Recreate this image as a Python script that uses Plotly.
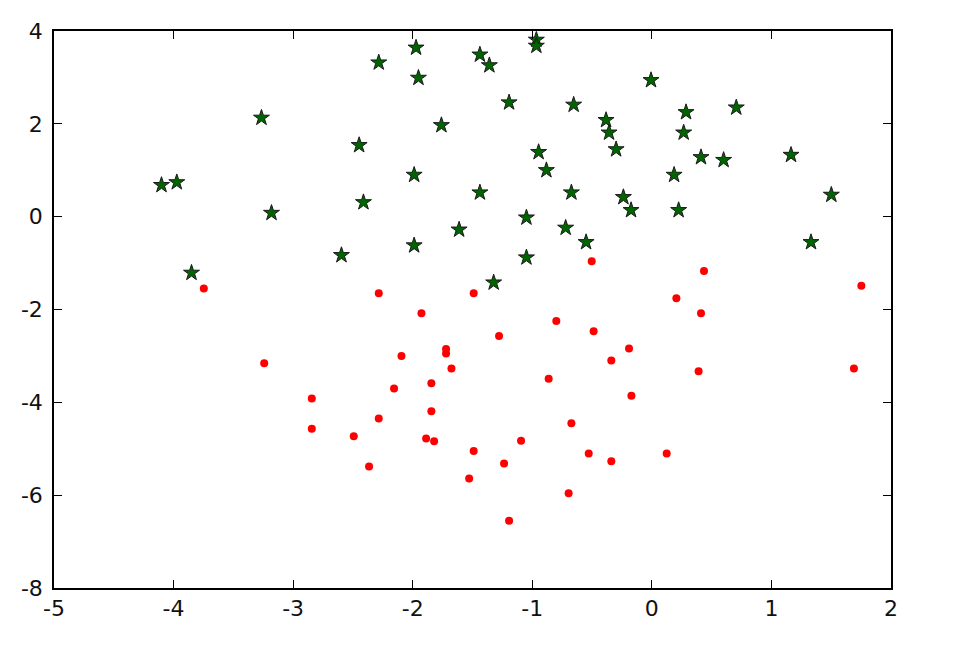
import plotly.graph_objects as go

star_x = [-1.972, -2.284, -1.952, -1.438, -3.265, -1.760, -2.448, -4.101, -3.973, -1.988,
          -1.438, -3.181, -2.412, -1.612, -1.988, -2.596, -3.850, -0.966, -0.966, -1.359,
          -0.007, -1.194, -0.654, -0.383, -0.358, -0.299, 0.286, 0.266, 0.706, -0.947,
          -0.882, 0.411, 0.600, 1.164, 0.186, -0.673, -0.238, -0.174, 0.224, 1.501,
          -1.049, -0.721, -0.550, -1.049, -1.323, 1.331]
star_y = [3.64, 3.32, 2.99, 3.49, 2.13, 1.97, 1.54, 0.68, 0.74, 0.90,
          0.52, 0.08, 0.31, -0.28, -0.62, -0.83, -1.21, 3.81, 3.68, 3.26,
          2.94, 2.46, 2.41, 2.08, 1.81, 1.45, 2.25, 1.81, 2.35, 1.39,
          1.00, 1.28, 1.22, 1.33, 0.90, 0.52, 0.42, 0.14, 0.14, 0.47,
          -0.02, -0.24, -0.55, -0.88, -1.42, -0.55]

dot_x = [-3.747, -2.284, -1.490, -1.927, -3.242, -2.094, -1.721, -1.721, -1.676, -2.156,
         -1.844, -2.844, -2.844, -2.284, -1.844, -2.493, -1.888, -1.821, -1.490, -2.365,
         -1.528, -0.503, 0.436, 1.752, 0.205, 0.411, -0.799, -1.278, -0.487, -0.191,
         -0.339, 0.391, 1.690, -0.863, -0.171, -0.673, -1.094, -1.236, -0.528, -0.339,
         0.124, -0.696, -1.194]
dot_y = [-1.55, -1.65, -1.65, -2.08, -3.16, -3.00, -2.85, -2.95, -3.27, -3.70,
         -3.59, -3.92, -4.57, -4.35, -4.19, -4.73, -4.78, -4.84, -5.05, -5.38,
         -5.64, -0.96, -1.17, -1.49, -1.76, -2.08, -2.25, -2.57, -2.47, -2.84,
         -3.10, -3.33, -3.27, -3.49, -3.86, -4.45, -4.83, -5.32, -5.10, -5.27,
         -5.10, -5.96, -6.55]

x_ticks = [-5, -4, -3, -2, -1, 0, 1, 2]
y_ticks = [-8, -6, -4, -2, 0, 2, 4]

fig = go.Figure()
fig.add_trace(go.Scatter(
    x=star_x, y=star_y, mode="markers",
    marker=dict(symbol="star", size=12, color="#006400",
                line=dict(color="#1a1a1a", width=1)),
    showlegend=False))
fig.add_trace(go.Scatter(
    x=dot_x, y=dot_y, mode="markers",
    marker=dict(symbol="circle", size=8, color="#ff0000",
                line=dict(color="#ff0000", width=0)),
    showlegend=False))

axis_common = dict(
    showgrid=False, zeroline=False, showline=True, linecolor="black", linewidth=1.5,
    mirror="ticks", ticks="inside", ticklen=8, tickwidth=1, tickcolor="black",
    tickfont=dict(family="DejaVu Sans", size=22, color="#111111"),
    automargin=False,
)
fig.update_xaxes(range=[-5, 2], tickvals=x_ticks,
                 ticktext=[str(v) for v in x_ticks], ticklabelstandoff=0,
                 **axis_common)
fig.update_yaxes(range=[-8, 4], tickvals=y_ticks,
                 ticktext=[str(v) for v in y_ticks], ticklabelstandoff=5,
                 **axis_common)

# page body has an 8px default margin, so offset margins accordingly
fig.update_layout(
    width=960, height=658,
    margin=dict(l=46, r=77, t=23, b=78),
    plot_bgcolor="white", paper_bgcolor="white",
)

fig.write_html("out.html")
